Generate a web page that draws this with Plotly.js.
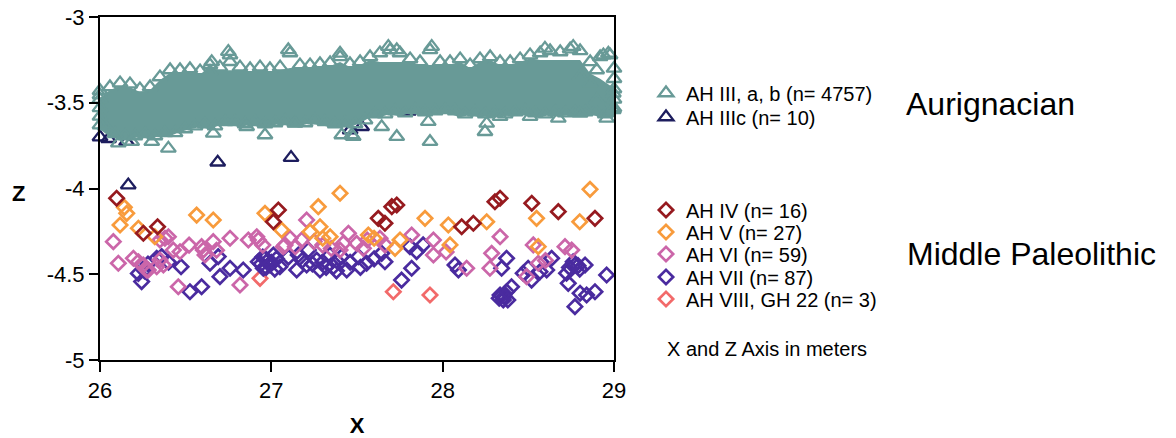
<!DOCTYPE html>
<html><head><meta charset="utf-8">
<script src="https://cdn.plot.ly/plotly-3.0.1.min.js"></script>
<style>html,body{margin:0;padding:0;background:#fff}</style>
</head><body><div id="chart" style="width:1176px;height:438px"></div>
<script>
// ---------------- data ----------------
const seriesNames = ["AH III, a, b (n= 4757)", "AH IIIc (n= 10)", "AH IV (n= 16)", "AH V (n= 27)", "AH VI (n= 59)", "AH VII (n= 87)", "AH VIII, GH 22 (n= 3)"];

// dense core of AH III: envelope of the solid cloud of triangles
const bandX = [25.96, 26.000, 26.058, 26.117, 26.175, 26.233, 26.292, 26.350, 26.409, 26.467, 26.525, 26.584, 26.642, 26.700, 26.759, 26.817, 26.876, 26.934, 26.992, 27.051, 27.109, 27.167, 27.226, 27.284, 27.343, 27.401, 27.459, 27.518, 27.576, 27.634, 27.693, 27.751, 27.810, 27.868, 27.926, 27.985, 28.043, 28.102, 28.160, 28.218, 28.277, 28.335, 28.394, 28.452, 28.510, 28.569, 28.627, 28.686, 28.744, 28.802, 28.861, 28.919, 28.977, 29.04];
const bandTop = [-3.473, -3.473, -3.426, -3.403, -3.409, -3.438, -3.426, -3.368, -3.327, -3.327, -3.321, -3.333, -3.298, -3.310, -3.310, -3.310, -3.321, -3.310, -3.321, -3.310, -3.298, -3.298, -3.298, -3.292, -3.286, -3.263, -3.292, -3.280, -3.251, -3.262, -3.262, -3.262, -3.263, -3.280, -3.280, -3.280, -3.280, -3.263, -3.298, -3.263, -3.251, -3.280, -3.280, -3.263, -3.240, -3.251, -3.251, -3.251, -3.251, -3.251, -3.330, -3.360, -3.400, -3.400];
const bandBottom = [-3.654, -3.654, -3.700, -3.712, -3.712, -3.700, -3.712, -3.694, -3.694, -3.671, -3.654, -3.642, -3.654, -3.630, -3.630, -3.642, -3.630, -3.642, -3.636, -3.624, -3.636, -3.636, -3.619, -3.630, -3.642, -3.636, -3.642, -3.619, -3.584, -3.584, -3.566, -3.578, -3.560, -3.572, -3.566, -3.560, -3.566, -3.584, -3.572, -3.584, -3.578, -3.584, -3.572, -3.566, -3.578, -3.584, -3.572, -3.578, -3.572, -3.572, -3.566, -3.584, -3.584, -3.584];

// AH III finds forming the upper fringe of the cloud
const ah3TopX = [26.000, 26.058, 26.117, 26.175, 26.233, 26.292, 26.350, 26.409, 26.467, 26.525, 26.584, 26.642, 26.700, 26.759, 26.817, 26.876, 26.934, 26.992, 27.051, 27.109, 27.167, 27.226, 27.284, 27.343, 27.401, 27.459, 27.518, 27.576, 27.634, 27.693, 27.751, 27.810, 27.868, 27.926, 27.985, 28.043, 28.102, 28.160, 28.218, 28.277, 28.335, 28.394, 28.452, 28.510, 28.569, 28.627, 28.686, 28.744, 28.802, 28.861, 28.919, 28.977];
const ah3TopZ = [-3.455, -3.408, -3.385, -3.391, -3.420, -3.408, -3.350, -3.309, -3.309, -3.303, -3.315, -3.280, -3.292, -3.222, -3.292, -3.303, -3.292, -3.303, -3.292, -3.210, -3.280, -3.280, -3.274, -3.268, -3.233, -3.274, -3.262, -3.233, -3.210, -3.192, -3.210, -3.245, -3.262, -3.192, -3.262, -3.262, -3.245, -3.280, -3.245, -3.233, -3.262, -3.262, -3.245, -3.222, -3.210, -3.198, -3.204, -3.187, -3.198, -3.262, -3.233, -3.222];
// AH III finds forming the lower fringe of the cloud
const ah3BotX = [26.029, 26.088, 26.146, 26.204, 26.263, 26.321, 26.379, 26.438, 26.496, 26.555, 26.613, 26.671, 26.730, 26.788, 26.846, 26.905, 26.963, 27.022, 27.080, 27.138, 27.197, 27.255, 27.313, 27.372, 27.430, 27.489, 27.547, 27.605, 27.664, 27.722, 27.781, 27.839, 27.897, 27.956, 28.014, 28.073, 28.131, 28.189, 28.248, 28.306, 28.365, 28.423, 28.481, 28.540, 28.598, 28.657, 28.715, 28.773, 28.832, 28.890, 28.948, 29.007];
const ah3BotZ = [-3.636, -3.682, -3.694, -3.694, -3.682, -3.694, -3.676, -3.676, -3.653, -3.636, -3.624, -3.636, -3.612, -3.612, -3.624, -3.612, -3.624, -3.618, -3.606, -3.618, -3.618, -3.601, -3.612, -3.624, -3.618, -3.624, -3.601, -3.566, -3.566, -3.548, -3.560, -3.542, -3.554, -3.548, -3.542, -3.548, -3.566, -3.554, -3.566, -3.560, -3.566, -3.554, -3.548, -3.560, -3.566, -3.554, -3.560, -3.554, -3.554, -3.548, -3.566, -3.566];
// AH III isolated finds and finds at the plot edges
const ah3OutX = [26.661, 26.963, 26.399, 27.411, 27.469, 26.107, 26.185, 26.302, 27.138, 26.856, 27.732, 27.926, 28.247, 28.257, 27.644, 27.478, 27.916, 28.51, 28.675, 28.802, 28.957, 29.016, 28.335,
  26.749, 26.759, 26.652, 26.642, 27.099, 27.401, 27.936, 27.683, 27.732, 28.762, 28.597, 28.938, 28.967, 29.025, 28.86, 28.899, 28.996, 28.802, 28.899, 28.996,
  26.0, 26.0, 26.0, 26.0, 26.0, 29.0, 29.0, 29.0, 29.0, 29.0];
const ah3OutZ = [-3.678, -3.688, -3.766, -3.688, -3.688, -3.736, -3.727, -3.727, -3.620, -3.640, -3.698, -3.727, -3.669, -3.620, -3.640, -3.698, -3.610, -3.581, -3.591, -3.562, -3.591, -3.542, -3.581,
  -3.202, -3.261, -3.261, -3.319, -3.192, -3.212, -3.173, -3.173, -3.192, -3.173, -3.183, -3.222, -3.212, -3.290, -3.387, -3.484, -3.445, -3.348, -3.309, -3.542,
  -3.43, -3.48, -3.53, -3.58, -3.63, -3.30, -3.36, -3.42, -3.48, -3.53];

const ah3cX = [26.0, 26.05, 26.155, 26.165, 26.687, 27.115, 27.46, 27.527, 27.8, 28.3];
const ah3cZ = [-3.70, -3.71, -3.727, -3.98, -3.847, -3.82, -3.66, -3.64, -3.55, -3.5];

const ah4X = [26.097, 26.253, 26.336, 27.012, 27.041, 27.732, 27.703, 27.624, 27.663, 28.111, 28.179, 28.305, 28.335, 28.52, 28.675, 28.889];
const ah4Z = [-4.057, -4.261, -4.223, -4.194, -4.125, -4.096, -4.106, -4.174, -4.203, -4.223, -4.203, -4.077, -4.057, -4.086, -4.135, -4.174];

const ah5X = [26.142, 26.156, 26.117, 26.224, 26.32, 26.564, 26.661, 26.963, 27.401, 27.274, 27.06, 27.226, 27.284, 27.343, 27.566, 27.751, 27.722, 27.897, 28.033, 28.257, 28.548, 28.80, 28.86, 28.043, 28.558, 27.30, 27.60];
const ah5Z = [-4.11, -4.145, -4.213, -4.232, -4.281, -4.155, -4.184, -4.145, -4.028, -4.106, -4.242, -4.252, -4.223, -4.281, -4.271, -4.30, -4.349, -4.174, -4.213, -4.194, -4.174, -4.194, -4.005, -4.329, -4.339, -4.29, -4.29];

const ah6X = [26.078, 26.107, 26.195, 26.253, 26.282, 26.35, 26.37, 26.379, 26.428, 26.467, 26.457, 26.593, 26.661, 26.613, 26.759, 26.866, 26.924, 26.817,
  27.206, 27.109, 27.07, 27.177, 27.45, 27.42, 27.498, 27.537, 27.401, 27.634, 27.663, 27.819, 27.946, 27.946,
  28.335, 28.286, 28.276, 28.14, 28.529, 28.714, 28.753, 28.49, 28.558,
  27.08, 26.915, 26.603, 26.399, 26.35, 26.331, 26.224, 26.272,
  27.30, 27.35, 27.25, 27.56, 27.14, 26.95, 26.68, 26.52, 28.02, 28.60];
const ah6Z = [-4.31, -4.436, -4.407, -4.446, -4.475, -4.417, -4.446, -4.29, -4.359, -4.369, -4.573, -4.339, -4.31, -4.388, -4.29, -4.30, -4.30, -4.563,
  -4.184, -4.29, -4.339, -4.30, -4.261, -4.32, -4.32, -4.349, -4.359, -4.29, -4.329, -4.271, -4.30, -4.388,
  -4.281, -4.378, -4.465, -4.465, -4.329, -4.339, -4.359, -4.514, -4.436,
  -4.33, -4.281, -4.359, -4.281, -4.30, -4.456, -4.427, -4.475,
  -4.33, -4.35, -4.31, -4.30, -4.34, -4.33, -4.36, -4.33, -4.37, -4.42];

const ah7X = [26.224, 26.243, 26.331, 26.36, 26.473, 26.525, 26.593, 26.642, 26.69, 26.7, 26.759, 26.836,
  26.924, 26.963, 26.992, 26.953,
  27.012, 27.05, 27.157, 27.216, 27.265, 27.206, 27.148, 27.284, 27.342, 27.362, 27.41, 27.44, 27.508, 27.556, 27.644, 27.663, 27.809, 27.848, 27.819, 27.76, 27.886,
  28.072, 28.092, 28.373, 28.344, 28.335, 28.373, 28.402, 28.354, 28.47, 28.499, 28.519, 28.568, 28.607, 28.636,
  28.723, 28.733, 28.772, 28.831, 28.762, 28.802, 28.84, 28.889, 28.772, 28.957,
  26.94, 26.98, 27.0, 26.97, 27.03, 26.95, 27.02, 27.1, 27.18, 27.24, 27.30, 27.32, 27.38, 27.46, 27.52, 27.60, 27.38,
  26.28, 26.40, 26.26, 28.36, 28.38, 28.33, 28.79, 28.80, 28.74];
const ah7Z = [-4.495, -4.543, -4.407, -4.397, -4.456, -4.602, -4.573, -4.436, -4.397, -4.514, -4.465, -4.475,
  -4.427, -4.407, -4.446, -4.465,
  -4.388, -4.456, -4.388, -4.359, -4.417, -4.446, -4.475, -4.475, -4.388, -4.456, -4.398, -4.475, -4.398, -4.436, -4.378, -4.427, -4.339, -4.368, -4.465, -4.534, -4.329,
  -4.446, -4.475, -4.407, -4.465, -4.621, -4.602, -4.573, -4.65, -4.494, -4.465, -4.534, -4.485, -4.475, -4.407,
  -4.494, -4.553, -4.446, -4.446, -4.427, -4.611, -4.621, -4.602, -4.689, -4.504,
  -4.44, -4.42, -4.43, -4.46, -4.41, -4.40, -4.47, -4.40, -4.42, -4.44, -4.43, -4.46, -4.42, -4.43, -4.46, -4.41, -4.48,
  -4.44, -4.43, -4.48, -4.63, -4.65, -4.64, -4.45, -4.47, -4.46];

const ah8X = [26.934, 27.712, 27.926];
const ah8Z = [-4.524, -4.602, -4.621];

const xTickVals = [26, 27, 28, 29];
const xTickText = ["26", "27", "28", "29"];
const yTickVals = [-5, -4.5, -4, -3.5, -3];
const yTickText = ["-5", "-4.5", "-4", "-3.5", "-3"];

// ---------------- styling ----------------
const FONT = "Liberation Sans, Arial, Helvetica, sans-serif";
const colors = {
  ah3: "#689a97", ah3c: "#1d1d5e", ah4: "#961a1f", ah5: "#f89b3c",
  ah6: "#cb66a9", ah7: "#4a2b9f", ah8: "#f26a6a"
};

function tri(name, x, y, color, legendId) {
  return {type: "scatter", mode: "markers", name: name, x: x, y: y, legend: legendId,
    cliponaxis: false, hoverinfo: "x+y+name",
    marker: {symbol: "triangle-up-open", size: 13, color: color, line: {width: 2.3, color: color}}};
}
function dia(name, x, y, color, legendId) {
  return {type: "scatter", mode: "markers", name: name, x: x, y: y, legend: legendId,
    cliponaxis: false, hoverinfo: "x+y+name",
    marker: {symbol: "diamond-open", size: 11, color: color, line: {width: 2.7, color: color}}};
}

const bandTrace = {
  type: "scatter", mode: "lines", x: bandX.concat(bandX.slice().reverse()),
  y: bandTop.concat(bandBottom.slice().reverse()),
  fill: "toself", fillcolor: colors.ah3, line: {width: 0, color: colors.ah3},
  showlegend: false, hoverinfo: "skip"
};

const ah3X = ah3TopX.concat(ah3BotX, ah3OutX);
const ah3Z = ah3TopZ.concat(ah3BotZ, ah3OutZ);

const traces = [
  tri(seriesNames[1], ah3cX, ah3cZ, colors.ah3c, "legend2"),
  bandTrace,
  tri(seriesNames[0], ah3X, ah3Z, colors.ah3, "legend"),
  dia(seriesNames[6], ah8X, ah8Z, colors.ah8, "legend7"),
  dia(seriesNames[5], ah7X, ah7Z, colors.ah7, "legend6"),
  dia(seriesNames[4], ah6X, ah6Z, colors.ah6, "legend5"),
  dia(seriesNames[3], ah5X, ah5Z, colors.ah5, "legend4"),
  dia(seriesNames[2], ah4X, ah4Z, colors.ah4, "legend3")
];

// plot area: x 100..614 px, y 17..360 px
const L = 100, T = 17, W = 514, H = 343;
const px2x = p => (p - L) / W;
const py2y = p => (T + H - p) / H;

function leg(py) {
  return {x: px2x(646), y: py2y(py), xanchor: "left", yanchor: "middle",
    bgcolor: "rgba(0,0,0,0)", borderwidth: 0,
    font: {family: FONT, size: 20, color: "#000"}, itemclick: false, itemdoubleclick: false};
}

const layout = {
  width: 1176, height: 438,
  margin: {l: L, r: 1176 - L - W, t: T, b: 438 - T - H, pad: 0},
  paper_bgcolor: "#fff", plot_bgcolor: "#fff",
  font: {family: FONT, color: "#000"},
  showlegend: true,
  xaxis: {range: [26, 29], tickvals: xTickVals, ticktext: xTickText,
    showgrid: false, zeroline: false, showline: true, linecolor: "#000", linewidth: 2, mirror: true,
    ticks: "outside", ticklen: 10, tickwidth: 2, tickcolor: "#000",
    tickfont: {family: FONT, size: 22, color: "#000"},
    title: {text: "<b>X</b>", font: {family: FONT, size: 22, color: "#000"}, standoff: 16}},
  yaxis: {range: [-5, -3], tickvals: yTickVals, ticktext: yTickText,
    showgrid: false, zeroline: false, showline: true, linecolor: "#000", linewidth: 2, mirror: true,
    ticks: "outside", ticklen: 9, tickwidth: 2, tickcolor: "#000",
    tickfont: {family: FONT, size: 22, color: "#000"}},
  legend: leg(93), legend2: leg(117),
  legend3: leg(210), legend4: leg(232), legend5: leg(254), legend6: leg(277), legend7: leg(299),
  annotations: [
    {xref: "paper", yref: "paper", x: px2x(18), y: py2y(193), xanchor: "center", yanchor: "middle",
      text: "<b>Z</b>", showarrow: false, font: {family: FONT, size: 22, color: "#000"}},
    {xref: "paper", yref: "paper", x: px2x(904), y: py2y(104), xanchor: "left", yanchor: "middle",
      text: "Aurignacian", showarrow: false, font: {family: FONT, size: 32, color: "#000"}},
    {xref: "paper", yref: "paper", x: px2x(905), y: py2y(254), xanchor: "left", yanchor: "middle",
      text: "Middle Paleolithic", showarrow: false, font: {family: FONT, size: 32, color: "#000"}},
    {xref: "paper", yref: "paper", x: px2x(665), y: py2y(349), xanchor: "left", yanchor: "middle",
      text: "X and Z Axis in meters", showarrow: false, font: {family: FONT, size: 20, color: "#000"}}
  ]
};

Plotly.newPlot("chart", traces, layout, {displayModeBar: false});
</script></body></html>
